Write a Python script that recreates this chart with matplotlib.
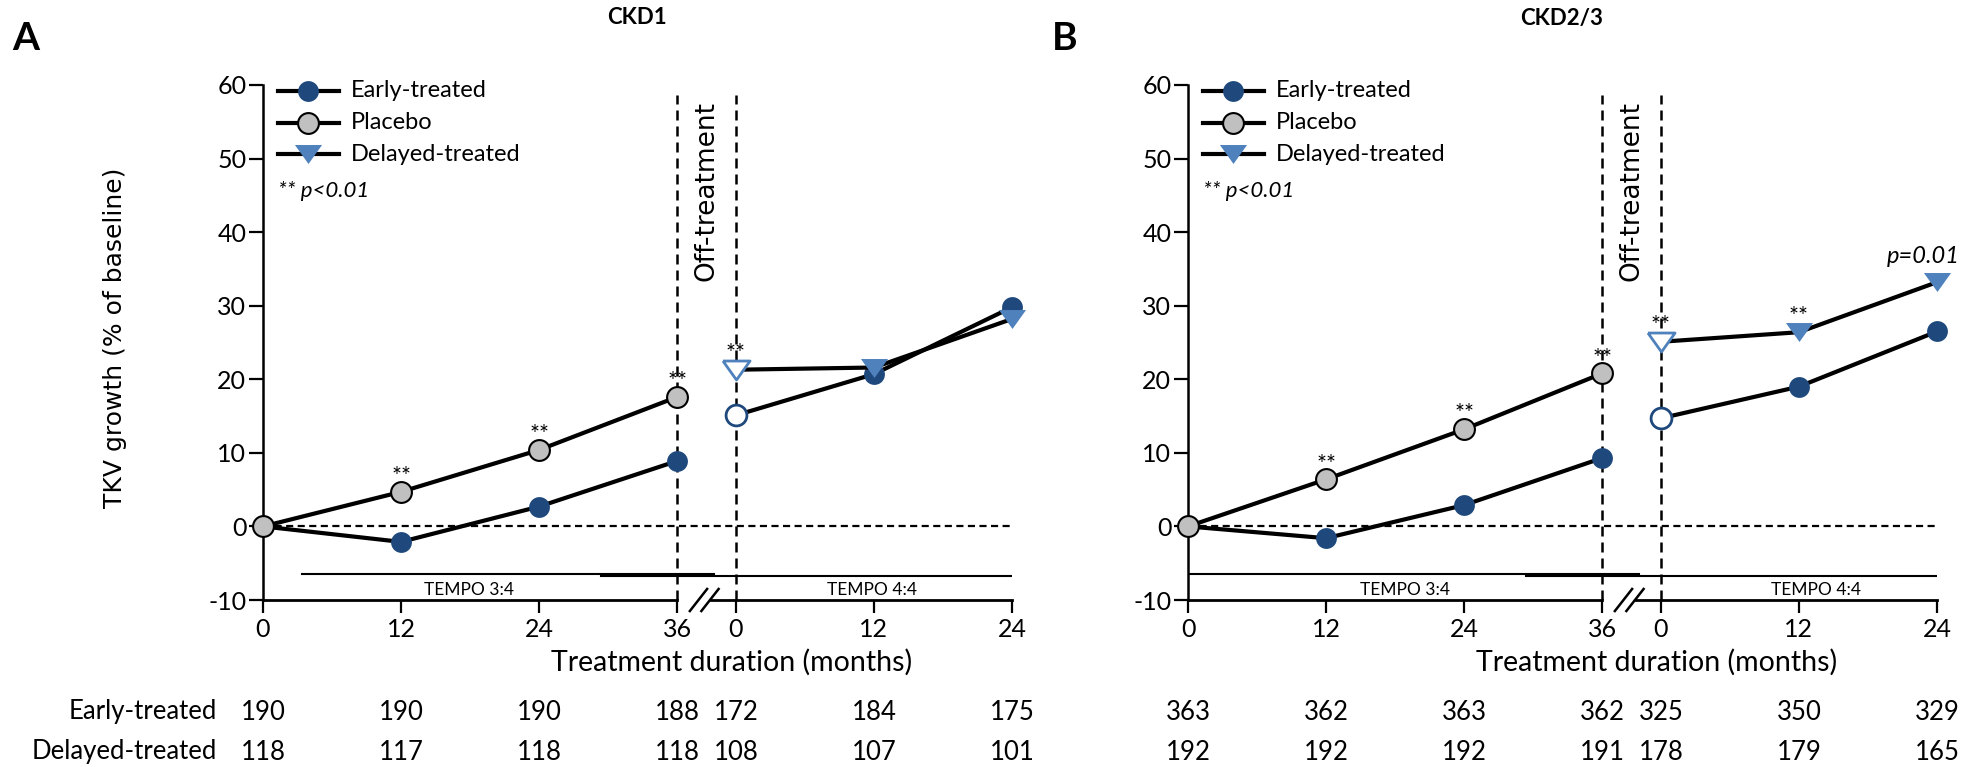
import matplotlib
matplotlib.use("Agg")
import matplotlib.pyplot as plt
from matplotlib import transforms
from matplotlib.lines import Line2D

plt.rcParams['font.family'] = ['Lato', 'DejaVu Sans']

NAVY = '#1F497D'
STEEL = '#4F81BD'
GREY = '#C0C0C0'

# Month grid: core study (TEMPO 3:4) and extension (TEMPO 4:4)
months_core = [0, 12, 24, 36]
months_ext = [0, 12, 24]
EXT_START = 41.1          # where the extension's month 0 sits on the shared axis
tick_labels = ['0', '12', '24', '36', '0', '12', '24']

# CKD1
ckd1_early_core = [0, -2.1, 2.7, 8.9]
ckd1_placebo_core = [0, 4.7, 10.4, 17.6]
ckd1_early_ext = [15.1, 20.7, 29.8]
ckd1_delayed_ext = [21.3, 21.6, 28.2]
ckd1_n_early = [190, 190, 190, 188, 172, 184, 175]
ckd1_n_delayed = [118, 117, 118, 118, 108, 107, 101]
ckd1_sig_placebo = [False, True, True, True]
ckd1_sig_delayed = ['**', '', '']

# CKD2/3
ckd23_early_core = [0, -1.6, 2.9, 9.3]
ckd23_placebo_core = [0, 6.4, 13.2, 20.8]
ckd23_early_ext = [14.7, 19.0, 26.5]
ckd23_delayed_ext = [25.1, 26.4, 33.2]
ckd23_n_early = [363, 362, 363, 362, 325, 350, 329]
ckd23_n_delayed = [192, 192, 192, 191, 178, 179, 165]
ckd23_sig_placebo = [False, True, True, True]
ckd23_sig_delayed = ['**', '**', 'p=0.01']

# wide downward triangle (closed so open markers get all three edges)
TRI = [(-1, 0.7), (1, 0.7), (0, -0.7), (-1, 0.7)]

fig = plt.figure(figsize=(19.77, 7.67), dpi=100)

AX_W = 749 / 1977
AX_B = 1 - 600 / 767
AX_H = 515 / 767


def circle_kw(face, edge, ew=0):
    return dict(marker='o', ms=15, mfc=face, mec=edge, mew=ew)


def tri_kw(face, edge, ew=0):
    return dict(marker=TRI, ms=19.5, mfc=face, mec=edge, mew=ew)


def draw_panel(left_px, early_core, placebo_core, early_ext, delayed_ext,
               sig_placebo, sig_delayed, n_early, n_delayed, tempo1_start,
               tempo_text_x, title, letter, letter_x, show_ylabel):
    ax = fig.add_axes([left_px / 1977, AX_B, AX_W, AX_H])
    ax.set_xlim(0, 65.1)
    ax.set_ylim(-10, 60)
    ext_x = [EXT_START + m for m in months_ext]

    # axes decoration
    for s in ['top', 'right', 'bottom']:
        ax.spines[s].set_visible(False)
    ax.spines['left'].set_linewidth(1.8)
    ax.set_yticks(range(-10, 61, 10))
    ax.set_yticklabels([str(v) for v in range(-10, 61, 10)])
    ax.set_xticks(months_core + ext_x)
    ax.set_xticklabels(tick_labels)
    ax.tick_params(axis='both', direction='out', length=10, width=1.6,
                   labelsize=18, colors='black')
    ax.tick_params(axis='y', pad=2)
    ax.tick_params(axis='x', length=9, pad=4)

    # broken x axis
    ax.plot([0, 36], [-10, -10], color='black', lw=2.0, clip_on=False, zorder=3)
    ax.plot([38.9, 65.1], [-10, -10], color='black', lw=2.0, clip_on=False, zorder=3)
    for dx in (0.0, 1.0):
        ax.plot([37.1 + dx, 38.6 + dx], [-11.5, -8.5], color='black', lw=1.8,
                clip_on=False, zorder=3)

    # reference lines
    ax.axhline(0, color='black', lw=1.6, ls=(0, (3.2, 2.0)), zorder=1)
    for xv in (36, EXT_START):
        ax.plot([xv, xv], [-10, 58.7], color='black', lw=1.8,
                ls=(0, (4.0, 2.4)), zorder=1)

    # study period bars
    ax.plot([tempo1_start, 39.2], [-6.4, -6.4], color='black', lw=1.5, zorder=1)
    ax.plot([29.4, 65.1], [-6.8, -6.8], color='black', lw=1.5, zorder=1)
    ax.text(tempo_text_x[0], -8.7, 'TEMPO 3:4', fontsize=12.5, ha='center', va='center')
    ax.text(tempo_text_x[1], -8.7, 'TEMPO 4:4', fontsize=12.5, ha='center', va='center')

    # series
    ax.plot(months_core, early_core, color='black', lw=3, zorder=4,
            clip_on=False, **circle_kw(NAVY, NAVY))
    ax.plot(months_core, placebo_core, color='black', lw=3, zorder=5,
            clip_on=False, **circle_kw(GREY, 'black', 1.5))
    ax.plot(ext_x, early_ext, color='black', lw=3, zorder=4, clip_on=False,
            **circle_kw(NAVY, NAVY))
    ax.plot(ext_x[:1], early_ext[:1], ls='none', zorder=6,
            **circle_kw('white', NAVY, 2.0))
    ax.plot(ext_x, delayed_ext, color='black', lw=3, zorder=4, clip_on=False,
            **tri_kw(STEEL, STEEL))
    ax.plot(ext_x[:1], delayed_ext[:1], ls='none', zorder=6,
            **tri_kw('white', STEEL, 2.0))

    # significance marks
    for m, v, s in zip(months_core, placebo_core, sig_placebo):
        if s:
            ax.text(m, v + 1.2, '**', fontsize=17, ha='center', va='baseline')
    for m, v, s in zip(ext_x, delayed_ext, sig_delayed):
        if s == '**':
            ax.text(m, v + 1.3, s, fontsize=17, ha='center', va='baseline')
        elif s:
            ax.text(m - 1.2, v + 2.6, s, fontsize=17, ha='center', va='baseline',
                    style='italic')

    # legend
    rows = [('Early-treated', circle_kw(NAVY, NAVY)),
            ('Placebo', circle_kw(GREY, 'black', 1.5)),
            ('Delayed-treated', tri_kw(STEEL, STEEL))]
    for i, (lab, kw) in enumerate(rows):
        yv = 59.2 - 4.3 * i
        ax.add_line(Line2D([1.3, 6.6], [yv, yv], color='black', lw=3,
                           clip_on=False, zorder=5))
        ax.add_line(Line2D([3.95], [yv], ls='none', clip_on=False, zorder=6, **kw))
        ax.text(7.6, yv, lab, fontsize=17, ha='left', va='center')
    ax.text(1.3, 45.6, '** p<0.01', fontsize=16, style='italic', ha='left',
            va='center')

    ax.text((36 + EXT_START) / 2, 45.6, 'Off-treatment', rotation=90,
            family='DejaVu Sans', fontsize=19, ha='center', va='center')

    # x label and patient counts
    bt = transforms.blended_transform_factory(ax.transData, fig.transFigure)
    ax.text(40.7, 1 - 662 / 767, 'Treatment duration (months)', transform=bt,
            fontsize=20.5, ha='center', va='center')
    for xv, ne, nd in zip(months_core + ext_x, n_early, n_delayed):
        ax.text(xv, 1 - 712 / 767, str(ne), transform=bt, fontsize=18.5,
                ha='center', va='center')
        ax.text(xv, 1 - 752 / 767, str(nd), transform=bt, fontsize=18.5,
                ha='center', va='center')

    ax.text(32.5, 1 - 18 / 767, title, transform=bt, fontsize=16,
            fontweight='bold', ha='center', va='center')
    fig.text(letter_x / 1977, 1 - 39 / 767, letter, fontsize=28,
             fontweight='bold', ha='center', va='center')
    if show_ylabel:
        fig.text(115 / 1977, 1 - 338 / 767, 'TKV growth (% of baseline)',
                 rotation=90, family='DejaVu Sans', fontsize=18, ha='center',
                 va='center')
    return ax


draw_panel(263, ckd1_early_core, ckd1_placebo_core, ckd1_early_ext,
           ckd1_delayed_ext, ckd1_sig_placebo, ckd1_sig_delayed,
           ckd1_n_early, ckd1_n_delayed, 3.4, (17.9, 52.9), 'CKD1', 'A', 26,
           True)
draw_panel(1188, ckd23_early_core, ckd23_placebo_core, ckd23_early_ext,
           ckd23_delayed_ext, ckd23_sig_placebo, ckd23_sig_delayed,
           ckd23_n_early, ckd23_n_delayed, 0.0, (18.9, 54.6), 'CKD2/3', 'B',
           1065, False)

for i, lab in enumerate(['Early-treated', 'Delayed-treated']):
    fig.text(217 / 1977, 1 - (712 + 40 * i) / 767, lab, fontsize=18.5,
             ha='right', va='center')

fig.savefig('out.png', dpi=100)
